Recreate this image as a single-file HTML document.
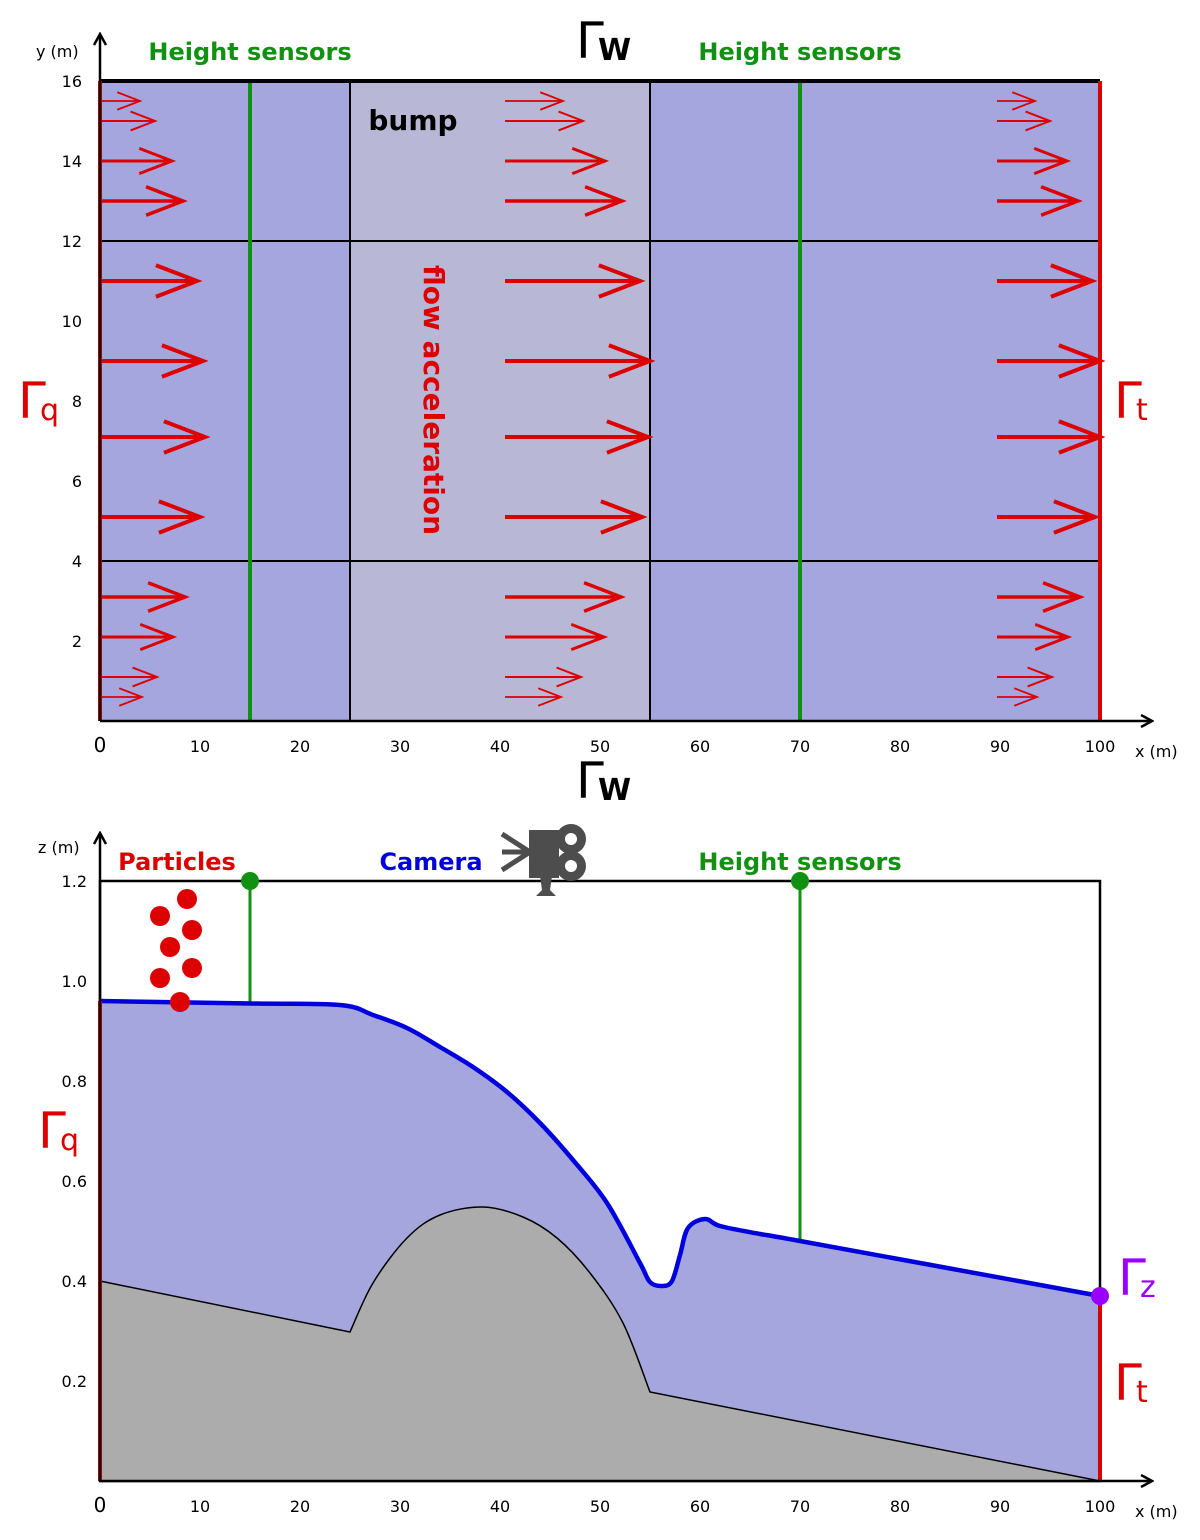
<!DOCTYPE html>
<html><head><meta charset="utf-8"><style>
html,body{margin:0;padding:0;background:#fff;}
svg{display:block;font-family:"DejaVu Sans","Liberation Sans",sans-serif;}
</style></head><body>
<svg id="s" width="1200" height="1540" viewBox="0 0 1200 1540" xmlns="http://www.w3.org/2000/svg">
<defs>
<marker id="ax" markerWidth="14" markerHeight="14" refX="12" refY="7" orient="auto" markerUnits="userSpaceOnUse"><path d="M1,1 L12,7 L1,13" fill="none" stroke="#000" stroke-width="2.5"/></marker>
</defs>
<g id="topg"></g>
<g id="botg"></g>
</svg>
<script>
const NS="http://www.w3.org/2000/svg";
// top view data
const xTicks=[0,10,20,30,40,50,60,70,80,90,100];
const yTicksTop=[2,4,6,8,10,12,14,16];
const arrowY=[15.5,15,14,13,11,9,7.1,5.1,3.1,2.1,1.1,0.6];
const arrowLenLeft=[4,5.5,7.2,8.3,9.7,10.3,10.5,10,8.5,7.3,5.7,4.2];
const arrowLenMid=[6,8,10.2,11.9,13.7,14.7,14.5,13.9,11.8,10.1,7.8,5.8];
const arrowLenRight=[4,5.5,7.2,8.3,9.7,10.5,10.5,10,8.5,7.3,5.7,4.2];
const arrowWidth=[1.8,2,3,3.5,4,4,4,4,3.5,3,2,1.8];
const arrowStart=[0,40.3,89.5];
const sensorX=[15,70];
const bumpX=[25,55];
const gridY=[4,12];
// side view data
const zTicks=[0.2,0.4,0.6,0.8,1.0,1.2];
const surfX=[0,15,24,27.3,30.7,34,37.3,40.7,44,47.3,50.7,54,55,56.2,57.2,58,58.8,60.5,62,66,70,100];
const surfZ=[0.96,0.955,0.952,0.932,0.906,0.868,0.828,0.778,0.716,0.642,0.556,0.436,0.398,0.39,0.40,0.452,0.506,0.524,0.51,0.494,0.48,0.37];
const bumpBedX=[25,27.3,30.7,34,38.3,42.3,45.7,49,52.3,55];
const bumpBedZ=[0.298,0.396,0.486,0.532,0.548,0.528,0.486,0.416,0.316,0.178];
const particleX=[8.7,6,9.2,7,6,9.2,8];
const particleZ=[1.164,1.13,1.102,1.068,1.006,1.026,0.958];

const X=x=>100+x*10;
const YT=y=>721-y*40;
const ZB=z=>1481-z*500;
const topG=document.getElementById('topg'), botG=document.getElementById('botg');
function el(p,tag,a,txt){const e=document.createElementNS(NS,tag);for(const k in a)e.setAttribute(k,a[k]);if(txt!==undefined)e.textContent=txt;p.appendChild(e);return e;}
function gamma(p,x,y,sub,col,name){
  const g=el(p,'g',{});
  
  
  el(g,'text',{x:x,y:y,'font-size':50,fill:col},'Γ');
  el(g,'text',{x:x+22,y:y+2,'font-size':30,fill:col,'font-weight':sub==='W'?'bold':'normal'},sub);
}
// ---- TOP ----
let r=el(topG,'rect',{x:X(0),y:YT(16),width:1000,height:640,fill:'#a6a6de'});

r=el(topG,'rect',{x:X(bumpX[0]),y:YT(16),width:X(bumpX[1])-X(bumpX[0]),height:640,fill:'#b8b8d6'});

gridY.forEach(v=>{const l=el(topG,'line',{x1:X(0),x2:X(100),y1:YT(v),y2:YT(v),stroke:'#000','stroke-width':2});});
bumpX.forEach(v=>{const l=el(topG,'line',{x1:X(v),x2:X(v),y1:YT(0),y2:YT(16),stroke:'#000','stroke-width':2});});
sensorX.forEach(v=>{const l=el(topG,'line',{x1:X(v),x2:X(v),y1:YT(0),y2:YT(16),stroke:'#119111','stroke-width':4});});
el(topG,'line',{x1:X(0),x2:X(100),y1:YT(16),y2:YT(16),stroke:'#000','stroke-width':4});
[arrowLenLeft,arrowLenMid,arrowLenRight].forEach((lens,c)=>{
  arrowY.forEach((y,i)=>{
    const x0=X(arrowStart[c]),x1=X(arrowStart[c]+lens[i]),py=YT(y);
    const w=arrowWidth[i];
    const h=w*3.2+3;
    const g=el(topG,'g',{stroke:'#dd0000','stroke-width':w,fill:'none'});
    
    
    el(g,'line',{x1:x0+2,x2:x1,y1:py,y2:py});
    el(g,'path',{d:`M${x1-h*2.6},${py-h} L${x1},${py} L${x1-h*2.6},${py+h}`});
  });
});
el(topG,'line',{x1:X(0),x2:X(0),y1:YT(0),y2:YT(16),stroke:'#dd0000','stroke-width':4});
el(topG,'line',{x1:X(100),x2:X(100),y1:YT(0),y2:YT(16),stroke:'#dd0000','stroke-width':4});
el(topG,'line',{x1:100,y1:721,x2:1152,y2:721,stroke:'#000','stroke-width':2.5,'marker-end':'url(#ax)'});
el(topG,'line',{x1:100,y1:721,x2:100,y2:34,stroke:'#000','stroke-width':2.5,'marker-end':'url(#ax)'});
xTicks.forEach(v=>{const t=el(topG,'text',{x:X(v),y:752,'font-size':v===0?20:16,'text-anchor':'middle'},String(v));});
yTicksTop.forEach(v=>{const t=el(topG,'text',{x:82,y:YT(v)+6,'font-size':16,'text-anchor':'end'},String(v));});
el(topG,'text',{x:36,y:57,'font-size':16},'y (m)');
el(topG,'text',{x:1135,y:757,'font-size':16},'x (m)');
el(topG,'text',{x:250,y:60,'font-size':24,'font-weight':'bold',fill:'#119111','text-anchor':'middle'},'Height sensors');
el(topG,'text',{x:800,y:60,'font-size':24,'font-weight':'bold',fill:'#119111','text-anchor':'middle'},'Height sensors');
el(topG,'text',{x:413,y:130,'font-size':28,'font-weight':'bold','text-anchor':'middle'},'bump');
el(topG,'text',{x:0,y:0,'font-size':28,'font-weight':'bold',fill:'#dd0000',transform:'translate(424,400) rotate(90)','text-anchor':'middle'},'flow acceleration');
gamma(topG,576,58,'W','#000','gamma-w-top');
gamma(topG,576,798,'W','#000','gamma-w-bottom');
gamma(topG,18,418,'q','#dd0000','gamma-q-top');
gamma(topG,1114,418,'t','#dd0000','gamma-t-top');
// ---- BOTTOM ----
el(botG,'rect',{x:100,y:ZB(1.2),width:1000,height:600,fill:'#fff',stroke:'#000','stroke-width':2.5});
function cr(xs,zs){let d='';const P=xs.map((x,i)=>[X(x),ZB(zs[i])]);d+=`M${P[0][0]},${P[0][1]}`;
 for(let i=0;i<P.length-1;i++){const p0=P[Math.max(0,i-1)],p1=P[i],p2=P[i+1],p3=P[Math.min(P.length-1,i+2)];
  d+=` C${p1[0]+(p2[0]-p0[0])/6},${p1[1]+(p2[1]-p0[1])/6} ${p2[0]-(p3[0]-p1[0])/6},${p2[1]-(p3[1]-p1[1])/6} ${p2[0]},${p2[1]}`;}return d;}
const sd=cr(surfX,surfZ);
let w=el(botG,'path',{d:sd+` L${X(100)},${ZB(0)} L${X(0)},${ZB(0)} Z`,fill:'#a6a6de'});

const bd=`M${X(0)},${ZB(0.4)} L`+cr(bumpBedX,bumpBedZ).slice(1)+` L${X(100)},${ZB(0)} L${X(0)},${ZB(0)} Z`;
let b=el(botG,'path',{d:bd,fill:'#acacac',stroke:'#000','stroke-width':1.5});

sensorX.forEach(v=>{
 let i=0;while(surfX[i+1]<v)i++;const zz=surfZ[i]+(surfZ[i+1]-surfZ[i])*(v-surfX[i])/(surfX[i+1]-surfX[i]);
 const l=el(botG,'line',{x1:X(v),x2:X(v),y1:ZB(1.2),y2:ZB(zz),stroke:'#119111','stroke-width':3});
 
 const c=el(botG,'circle',{cx:X(v),cy:ZB(1.2),r:9,fill:'#119111'});
 
});
let s=el(botG,'path',{d:sd,fill:'none',stroke:'#0000dd','stroke-width':4.5});

el(botG,'line',{x1:X(0),x2:X(0),y1:ZB(0),y2:ZB(0.96),stroke:'#dd0000','stroke-width':4});
el(botG,'line',{x1:X(100),x2:X(100),y1:ZB(0),y2:ZB(0.37),stroke:'#dd0000','stroke-width':4});
let pz=el(botG,'circle',{cx:X(100),cy:ZB(0.37),r:9,fill:'#9900ff'});
particleX.forEach((x,i)=>{const c=el(botG,'circle',{cx:X(x),cy:ZB(particleZ[i]),r:10,fill:'#dd0000'});});
el(botG,'line',{x1:100,y1:1481,x2:1152,y2:1481,stroke:'#000','stroke-width':2.5,'marker-end':'url(#ax)'});
el(botG,'line',{x1:100,y1:1481,x2:100,y2:833,stroke:'#000','stroke-width':2.5,'marker-end':'url(#ax)'});
xTicks.forEach(v=>{const t=el(botG,'text',{x:X(v),y:1512,'font-size':v===0?20:16,'text-anchor':'middle'},String(v));});
zTicks.forEach(v=>{const t=el(botG,'text',{x:87,y:ZB(v)+6,'font-size':16,'text-anchor':'end'},v.toFixed(1));});
el(botG,'text',{x:38,y:853,'font-size':16},'z (m)');
el(botG,'text',{x:1135,y:1517,'font-size':16},'x (m)');
el(botG,'text',{x:177,y:870,'font-size':24,'font-weight':'bold',fill:'#dd0000','text-anchor':'middle'},'Particles');
el(botG,'text',{x:431,y:870,'font-size':24,'font-weight':'bold',fill:'#0000dd','text-anchor':'middle'},'Camera');
el(botG,'text',{x:800,y:870,'font-size':24,'font-weight':'bold',fill:'#119111','text-anchor':'middle'},'Height sensors');
const cam=el(botG,'g',{fill:'#4d4d4d'});

el(cam,'rect',{x:529,y:830,width:30,height:48});
el(cam,'circle',{cx:571,cy:839,r:15});el(cam,'circle',{cx:571,cy:866,r:15});
el(cam,'circle',{cx:571,cy:839,r:6,fill:'#fff'});el(cam,'circle',{cx:571,cy:866,r:6,fill:'#fff'});
el(cam,'path',{d:'M540,876 L552,876 L550,890 L556,896 L536,896 L542,890 Z'});
el(cam,'path',{d:'M502,834 L530,852 M502,852 L530,852 M502,870 L530,852',stroke:'#4d4d4d','stroke-width':5,fill:'none'});
gamma(botG,38,1148,'q','#dd0000','gamma-q-bottom');
gamma(botG,1114,1400,'t','#dd0000','gamma-t-bottom');
gamma(botG,1118,1295,'z','#9900ff','gamma-z');
</script>
</body></html>
